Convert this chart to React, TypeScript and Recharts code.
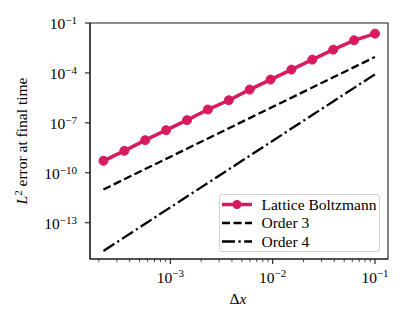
import { LineChart, Line, XAxis, YAxis, Legend, ReferenceArea } from 'recharts';

// grid spacing (each step is dx / 1.6)
const dx = [2.22e-4, 3.55e-4, 5.68e-4, 9.09e-4, 1.455e-3, 2.328e-3, 3.725e-3, 5.96e-3, 9.54e-3, 1.526e-2, 2.441e-2, 3.906e-2, 6.25e-2, 0.1];
const lbError = [5.25e-10, 2.09e-9, 9.12e-9, 3.63e-8, 1.45e-7, 6.31e-7, 2.29e-6, 1.0e-5, 3.98e-5, 1.58e-4, 6.31e-4, 2.51e-3, 9.12e-3, 2.29e-2];
const order3 = [1.0e-11, 4.09e-11, 1.67e-10, 6.86e-10, 2.81e-9, 1.15e-8, 4.71e-8, 1.93e-7, 7.91e-7, 3.25e-6, 1.33e-5, 5.45e-5, 2.23e-4, 9.1e-4];
const order4 = [2.02e-15, 1.32e-14, 8.69e-14, 5.69e-13, 3.73e-12, 2.44e-11, 1.6e-10, 1.05e-9, 6.89e-9, 4.53e-8, 2.96e-7, 1.94e-6, 1.27e-5, 8.3e-5];

const xMajor = [1e-3, 1e-2, 1e-1];
const xMinor = [2e-4, 3e-4, 4e-4, 5e-4, 6e-4, 7e-4, 8e-4, 9e-4, 2e-3, 3e-3, 4e-3, 5e-3, 6e-3, 7e-3, 8e-3, 9e-3, 2e-2, 3e-2, 4e-2, 5e-2, 6e-2, 7e-2, 8e-2, 9e-2];
const yMajor = [1e-1, 1e-4, 1e-7, 1e-10, 1e-13];
const xDomain = [1.64e-4, 0.134];
const yDomain = [6.6e-16, 0.1];

const data = dx.map((d, i) => ({ dx: d, lb: lbError[i], o3: order3[i], o4: order4[i] }));

const FONT = '"Liberation Serif", "DejaVu Serif", serif';
const PINK = '#D81B60';
const AXIS = '#1a1a1a';
const DASH = '8 3.5';
const DASHDOT = '13 3.5 2.2 3.5';

const isMajor = (v: number) => Math.abs(Math.log10(v) - Math.round(Math.log10(v))) < 1e-6;
const expOf = (v: number) => Math.round(Math.log10(v));

const XTick = ({ x, y, payload }: any) => {
  const v = payload.value;
  const major = isMajor(v);
  return (
    <g>
      <line x1={x} x2={x} y1={y} y2={y + (major ? 5 : 3)} stroke={AXIS} strokeWidth={major ? 1.1 : 0.8} />
      {major && (
        <text x={x} y={y + 23.5} textAnchor="middle" fontFamily={FONT} fontSize={15.5} fill="#000">
          10<tspan dy={-5.5} fontSize={11}>{'\u2212' + Math.abs(expOf(v))}</tspan>
        </text>
      )}
    </g>
  );
};

const YTick = ({ x, y, payload }: any) => {
  const v = payload.value;
  return (
    <g>
      <line x1={x} x2={x - 5} y1={y} y2={y} stroke={AXIS} strokeWidth={1.1} />
      <text x={x - 13} y={y + 6} textAnchor="end" fontFamily={FONT} fontSize={15.5} fill="#000">
        10<tspan dy={-5} fontSize={11}>{'\u2212' + Math.abs(expOf(v))}</tspan>
      </text>
    </g>
  );
};

const YLabel = () => (
  <text x={0} y={0} transform="translate(27, 141) rotate(-90)" textAnchor="middle" fontFamily={FONT} fontSize={15.5} fill="#000">
    <tspan fontStyle="italic">L</tspan>
    <tspan dy={-5} fontSize={11}>2</tspan>
    <tspan dy={5}> error at final time</tspan>
  </text>
);

const XLabel = () => (
  <text x={238} y={304} textAnchor="middle" fontFamily={FONT} fontSize={15.5} fill="#000">
    Δ<tspan fontStyle="italic">x</tspan>
  </text>
);

const LegendBox = () => (
  <div
    style={{
      width: 161,
      height: 58,
      border: '1px solid #d0d0d0',
      borderRadius: 3,
      background: 'rgba(255,255,255,0.85)',
      boxSizing: 'border-box',
    }}
  >
    <svg width={161} height={58} style={{ position: 'absolute', left: 0, top: 0 }}>
      <line x1={3} x2={33} y1={10.5} y2={10.5} stroke={PINK} strokeWidth={3.5} />
      <circle cx={18} cy={10.5} r={4.5} fill={PINK} />
      <text x={42.5} y={15.5} fontFamily={FONT} fontSize={15.5}>Lattice Boltzmann</text>
      <line x1={3} x2={33} y1={29} y2={29} stroke="#000" strokeWidth={2.3} strokeDasharray={DASH} />
      <text x={42.5} y={34} fontFamily={FONT} fontSize={15.5}>Order 3</text>
      <line x1={3} x2={33} y1={47.5} y2={47.5} stroke="#000" strokeWidth={2.3} strokeDasharray={DASHDOT} />
      <text x={42.5} y={52.5} fontFamily={FONT} fontSize={15.5}>Order 4</text>
    </svg>
  </div>
);

const App = () => (
  <div style={{ position: 'absolute', left: 0, top: 0, background: '#fff' }}>
    <LineChart width={407} height={325} data={data} margin={{ top: 23, right: 19, left: 0, bottom: 0 }}>
      <XAxis
        dataKey="dx"
        type="number"
        scale="log"
        domain={xDomain}
        allowDataOverflow
        ticks={[...xMinor, ...xMajor]}
        interval={0}
        height={66}
        tickSize={0}
        tickMargin={0}
        tickLine={false}
        tick={<XTick />}
        stroke={AXIS}
        strokeWidth={1.1}
        label={<XLabel />}
      />
      <YAxis
        type="number"
        scale="log"
        domain={yDomain}
        allowDataOverflow
        ticks={yMajor}
        interval={0}
        width={90}
        tickSize={0}
        tickMargin={0}
        tickLine={false}
        tick={<YTick />}
        stroke={AXIS}
        strokeWidth={1.1}
        label={<YLabel />}
      />
      {/* frame (top and right spines) */}
      <ReferenceArea x1={xDomain[0]} x2={xDomain[1]} y1={yDomain[0]} y2={yDomain[1]} ifOverflow="visible" fill="none" fillOpacity={0} stroke={AXIS} strokeWidth={1.1} />
      <Line dataKey="o3" stroke="#000" strokeWidth={2.3} strokeDasharray={DASH} dot={false} activeDot={false} isAnimationActive={false} />
      <Line dataKey="o4" stroke="#000" strokeWidth={2.3} strokeDasharray={DASHDOT} dot={false} activeDot={false} isAnimationActive={false} />
      <Line dataKey="lb" stroke={PINK} strokeWidth={3.5} dot={{ r: 4.5, fill: PINK, stroke: PINK, strokeWidth: 1 }} activeDot={false} isAnimationActive={false} />
      <Legend
        layout="horizontal"
        verticalAlign="middle"
        content={<LegendBox />}
        wrapperStyle={{ left: 219, top: 194, width: 161, height: 58 }}
      />
    </LineChart>
  </div>
);

export default App;
